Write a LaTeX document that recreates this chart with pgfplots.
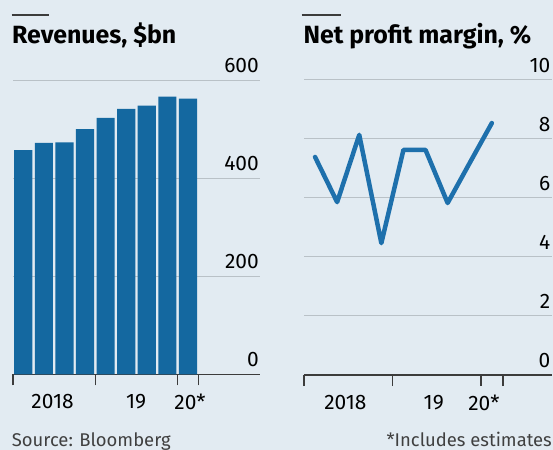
\documentclass[border=0pt]{standalone}
\usepackage{pgfplots}
\pgfplotsset{compat=1.18}
\usepackage{fontspec}
\setmainfont{Fira Sans}
\definecolor{bg}{RGB}{226,235,242}
\definecolor{barblue}{RGB}{20,104,160}
\definecolor{lineblue}{RGB}{30,112,172}
\definecolor{gridgrey}{RGB}{185,193,199}
\definecolor{axisgrey}{RGB}{60,60,60}
\pgfplotsset{common/.style={
  scale only axis, clip=false,
  axis x line*=bottom, axis y line*=right,
  y axis line style={draw=none},
  x axis line style={draw=axisgrey, line width=1.5bp},
  ymajorgrids, grid style={draw=gridgrey, line width=1bp},
  ytick style={draw=none},
  xtick style={draw=axisgrey, line width=1.5bp},
  tick align=outside, major tick length=11bp,
  xticklabels={},
  /pgf/number format/assume math mode=true,
  yticklabel style={anchor=south east, inner sep=0pt, xshift=-12bp, yshift=7bp, font=\fontsize{21}{21}\selectfont, text=black},
  xticklabel style={anchor=north, inner sep=0pt, yshift=-20bp, font=\fontsize{21}{21}\selectfont, text=black},
  extra x tick style={major tick length=0pt, xtick style={draw=none}},
}}
\begin{document}
\begin{tikzpicture}
\path[use as bounding box, fill=bg] (0bp,0bp) rectangle (553bp,450bp);
% titles
\draw[axisgrey, line width=2bp] (11.7bp,435bp) -- (49.3bp,435bp);
\draw[axisgrey, line width=2bp] (301.7bp,435bp) -- (341bp,435bp);
\node[anchor=base west, inner sep=0pt, font=\fontsize{25}{25}\selectfont\bfseries] at (12bp,406.5bp) {Revenues, \$bn};
\node[anchor=base west, inner sep=0pt, font=\fontsize{25}{25}\selectfont\bfseries] at (303.3bp,406.5bp) {Net profit margin, \%};
\node[anchor=base west, inner sep=0pt, font=\fontsize{18.5}{18.5}\selectfont, text=black!75] at (11.7bp,4bp) {Source: Bloomberg};
\node[anchor=base east, inner sep=0pt, font=\fontsize{18.5}{18.5}\selectfont, text=black!75] at (552bp,4bp) {*Includes estimates};

\begin{axis}[common, at={(13bp,75.7bp)}, anchor=south west,
  width=247bp, height=294.3bp,
  xmin=0, xmax=12, ymin=0, ymax=600,
  ytick={0,200,400,600},
  xtick={0,4,8,9},
  extra x ticks={1.92,5.98,8.6},
  extra x tick labels={2018,19,20*}]
\addplot[ybar, bar width=0.88, fill=barblue, draw=none] coordinates {
 (0.5,457) (1.5,472) (2.5,473) (3.5,500) (4.5,523) (5.5,541) (6.5,548) (7.5,566) (8.5,562)};
\end{axis}

\begin{axis}[common, at={(304bp,75bp)}, anchor=south west,
  width=247.5bp, height=295bp,
  xmin=0, xmax=11.2, ymin=0, ymax=10,
  ytick={0,2,4,6,8,10},
  xtick={0,4,8,9},
  extra x ticks={1.87,5.87,8.14},
  extra x tick labels={2018,19,20*}]
\addplot[line width=4.5bp, color=lineblue, line join=round, line cap=round] coordinates {
 (0.5,7.39) (1.5,5.86) (2.5,8.14) (3.5,4.47) (4.5,7.63) (5.5,7.63) (6.5,5.83) (7.5,7.19) (8.5,8.54)};
\end{axis}
\end{tikzpicture}
\end{document}
